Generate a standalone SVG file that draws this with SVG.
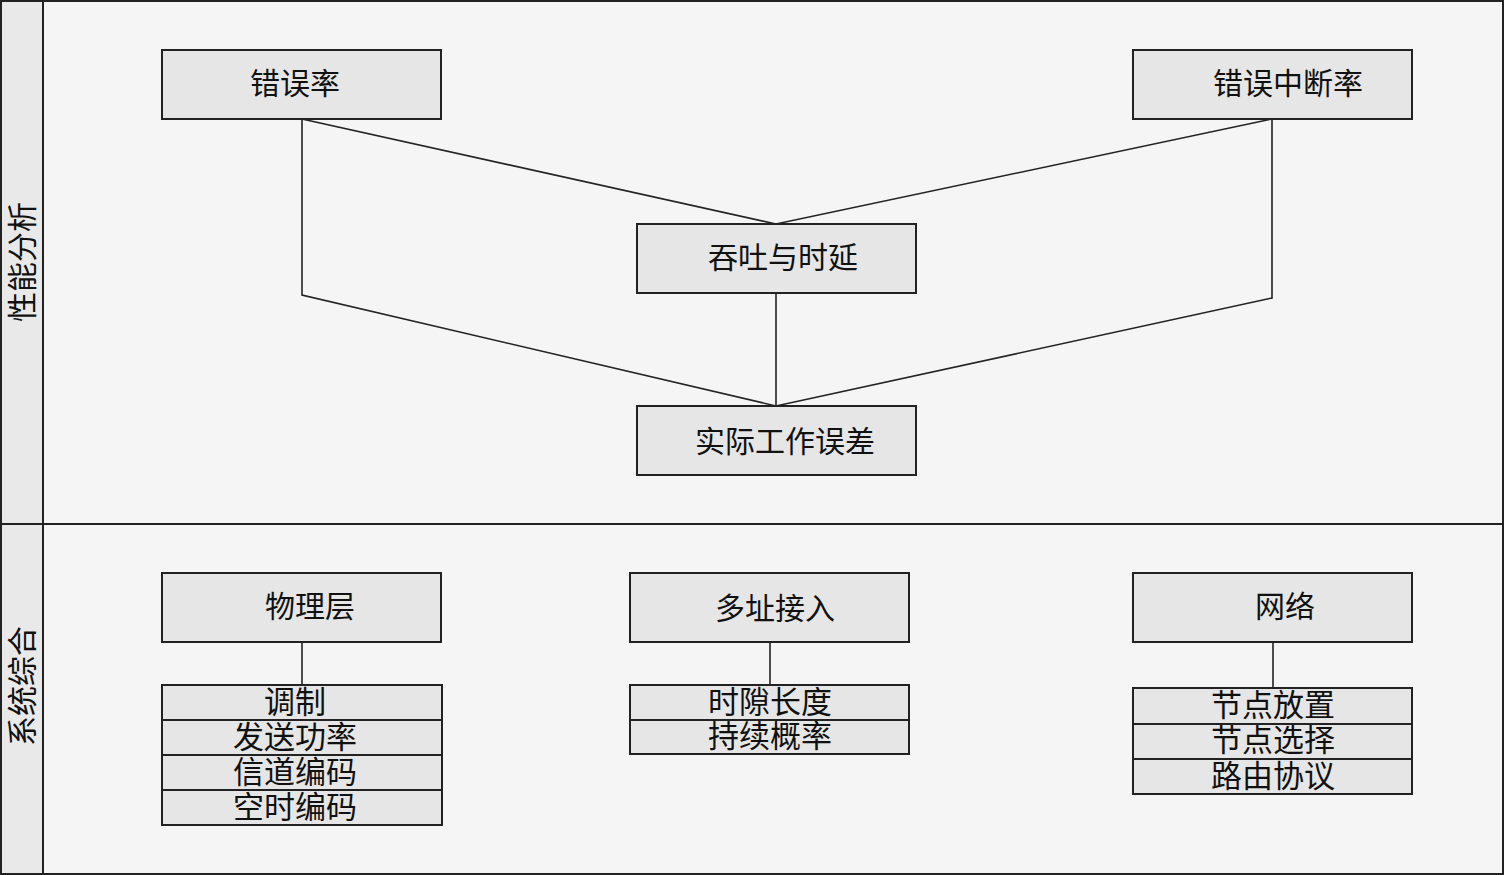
<svg xmlns="http://www.w3.org/2000/svg" width="1504" height="875" viewBox="0 0 1504 875">
<style>
.bg{fill:#f5f5f5;stroke:#222;stroke-width:2}
.side{fill:#e9e9e9;stroke:#222;stroke-width:2}
.box{fill:#e6e6e6;stroke:#222;stroke-width:2}
.ln{fill:none;stroke:#222;stroke-width:1.6}
.t{font-family:"Liberation Serif","Noto Sans CJK SC",serif;font-size:30px;fill:#111;text-anchor:middle;dominant-baseline:central}
.ts{font-family:"Liberation Serif","Noto Sans CJK SC",serif;font-size:31px;fill:#111;text-anchor:middle;dominant-baseline:central}
.lab{font-family:"Liberation Serif","Noto Sans CJK SC",serif;font-size:30px;fill:#111;text-anchor:middle;dominant-baseline:central}
</style>
<g id="background">
<rect class="bg" x="1" y="1" width="1502" height="873"/>
<rect class="side" x="1" y="1" width="42" height="873"/>
<line class="ln" x1="1" y1="524" x2="1503" y2="524" style="stroke-width:2"/>
<text class="lab" transform="translate(22,262) rotate(-90)">性能分析</text>
<text class="lab" transform="translate(22,686) rotate(-90)">系统综合</text>
</g>
<g id="connectors">
<polyline class="ln" points="302,119 776,224 1272,119"/>
<polyline class="ln" points="302,119 302,295 776,406 1272,298 1272,119"/>
<line class="ln" x1="776" y1="293" x2="776" y2="406"/>
<line class="ln" x1="302" y1="642" x2="302" y2="685"/>
<line class="ln" x1="770" y1="642" x2="770" y2="685"/>
<line class="ln" x1="1273" y1="642" x2="1273" y2="688"/>
</g>
<g id="n-error-rate"><rect class="box" x="162" y="50" width="279" height="69"/><text class="t" x="295" y="83">错误率</text></g>
<g id="n-outage-rate"><rect class="box" x="1133" y="50" width="279" height="69"/><text class="t" x="1288" y="83">错误中断率</text></g>
<g id="n-throughput"><rect class="box" x="637" y="224" width="279" height="69"/><text class="t" x="783" y="257">吞吐与时延</text></g>
<g id="n-actual-error"><rect class="box" x="637" y="406" width="279" height="69"/><text class="t" x="785" y="441">实际工作误差</text></g>
<g id="n-phy"><rect class="box" x="162" y="573" width="279" height="69"/><text class="t" x="310" y="606">物理层</text></g>
<g id="n-phy-items">
<rect class="box" x="162" y="685" width="280" height="35"/><text class="ts" x="295" y="702">调制</text>
<rect class="box" x="162" y="720" width="280" height="35"/><text class="ts" x="295" y="737">发送功率</text>
<rect class="box" x="162" y="755" width="280" height="35"/><text class="ts" x="295" y="772">信道编码</text>
<rect class="box" x="162" y="790" width="280" height="35"/><text class="ts" x="295" y="807">空时编码</text>
</g>
<g id="n-mac"><rect class="box" x="630" y="573" width="279" height="69"/><text class="t" x="775" y="608">多址接入</text></g>
<g id="n-mac-items">
<rect class="box" x="630" y="685" width="279" height="35"/><text class="ts" x="770" y="702">时隙长度</text>
<rect class="box" x="630" y="720" width="279" height="34"/><text class="ts" x="770" y="736">持续概率</text>
</g>
<g id="n-net"><rect class="box" x="1133" y="573" width="279" height="69"/><text class="t" x="1285" y="606">网络</text></g>
<g id="n-net-items">
<rect class="box" x="1133" y="688" width="279" height="36"/><text class="ts" x="1273" y="705">节点放置</text>
<rect class="box" x="1133" y="724" width="279" height="35"/><text class="ts" x="1273" y="740">节点选择</text>
<rect class="box" x="1133" y="759" width="279" height="35"/><text class="ts" x="1273" y="776">路由协议</text>
</g>
</svg>
